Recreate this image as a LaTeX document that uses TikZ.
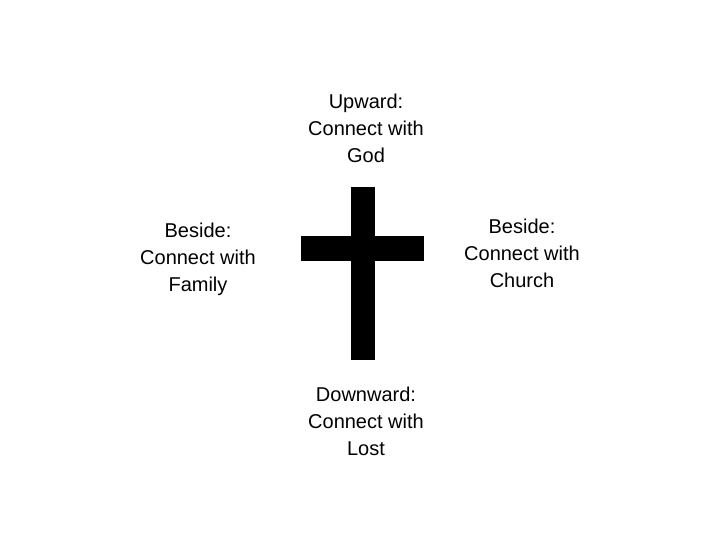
\documentclass[tikz,border=0pt]{standalone}
\usepackage{fontspec}
\setmainfont{Liberation Sans}
\begin{document}
\begin{tikzpicture}[x=1pt,y=-1pt,
  lbl/.style={align=center,font=\fontsize{20}{27}\selectfont,inner sep=0pt},
  bar/.style={fill=black,draw=none,inner sep=0pt}]
\useasboundingbox (0,0) rectangle (720,540);
\node[bar,minimum width=24pt,minimum height=173pt] (vbar) at (363,273.5) {};
\node[bar,minimum width=123pt,minimum height=25pt] (hbar) at (362.5,248.5) {};
\node[lbl] (up) at (366,128) {Upward:\\Connect with\\God};
\node[lbl] (left) at (198,259) {Beside:\\Connect with\\Family};
\node[lbl] (right) at (522,253) {Beside:\\Connect with\\Church};
\node[lbl] (down) at (366,421) {Downward:\\Connect with\\Lost};
\end{tikzpicture}
\end{document}
